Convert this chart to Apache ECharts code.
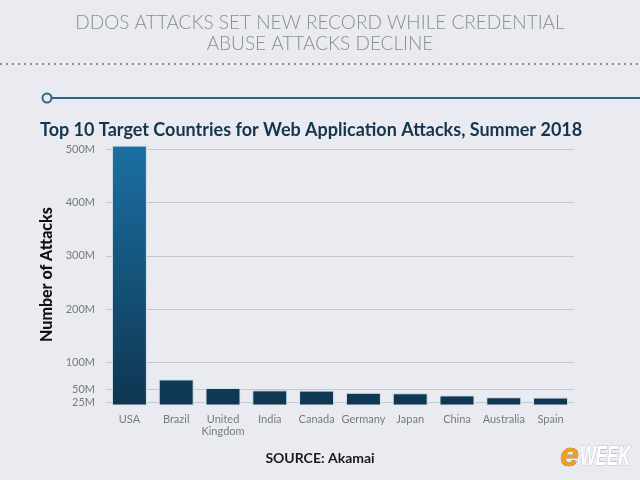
<!DOCTYPE html>
<html>
<head>
<meta charset="utf-8">
<script src="https://cdn.jsdelivr.net/npm/echarts@6/dist/echarts.min.js"></script>
<style>
  html, body { margin: 0; padding: 0; background: #e9ebf1; }
  #chart { width: 640px; height: 480px; }
</style>
</head>
<body>
<div id="chart"></div>
<script>
// Top 10 target countries, web application attacks (millions)
const countries = ['USA', 'Brazil', 'United\nKingdom', 'India', 'Canada', 'Germany', 'Japan', 'China', 'Australia', 'Spain'];
const attacks = [507, 68, 52, 47.5, 47, 43, 42, 38, 34.5, 34];
const yTicks = [25, 50, 100, 200, 300, 400, 500];

const chart = echarts.init(document.getElementById('chart'));

const option = {
    backgroundColor: '#e9ebf1',
    animation: false,
    title: {
        text: 'Top 10 Target Countries for Web Application Attacks, Summer 2018',
        left: 35,
        top: 116,
        textStyle: {
            color: '#15354d',
            fontFamily: 'Lato',
            fontWeight: 'bold',
            fontSize: 18,
        },
    },
    grid: {
        left: 106,
        right: 66,
        top: 144,
        bottom: 75,
    },
    xAxis: {
        type: 'category',
        data: countries,
        axisLine: { show: false },
        axisTick: { show: false },
        axisLabel: {
            color: '#777b80',
            fontFamily: 'Lato',
            fontSize: 11,
            margin: 8,
            lineHeight: 12,
            interval: 0,
        },
    },
    yAxis: {
        type: 'value',
        min: 20,
        max: 510,
        name: 'Number of Attacks',
        nameLocation: 'middle',
        nameGap: 45,
        nameTextStyle: {
            color: '#111111',
            fontFamily: 'Lato',
            fontWeight: 900,
            fontSize: 16,
        },
        axisLine: { show: false },
        axisTick: { show: false, customValues: yTicks },
        axisLabel: {
            customValues: yTicks,
            color: '#777b80',
            fontFamily: 'Lato',
            fontSize: 11,
            margin: 11,
            formatter: v => v + 'M',
        },
        splitLine: {
            lineStyle: { color: '#c6c8cc', width: 1 },
        },
    },
    series: [
        {
            type: 'bar',
            data: attacks,
            barWidth: 35,
            itemStyle: {
                borderColor: '#d6e4ee',
                borderWidth: 1,
                color: {
                    type: 'linear',
                    x: 0, y: 144, x2: 0, y2: 405,
                    global: true,
                    colorStops: [
                        { offset: 0, color: '#1b70a3' },
                        { offset: 1, color: '#0e3651' },
                    ],
                },
            },
        },
    ],
    graphic: [
        {
            type: 'text',
            x: 320,
            y: 12,
            style: {
                text: 'DDOS ATTACKS SET NEW RECORD WHILE CREDENTIAL\nABUSE ATTACKS DECLINE',
                fill: '#8a8d93',
                font: '300 19px Lato',
                lineHeight: 21,
                align: 'center',
            },
        },
        {
            type: 'line',
            shape: { x1: 0, y1: 64, x2: 640, y2: 64 },
            style: { stroke: '#8a8f98', lineWidth: 2, lineDash: [2, 4] },
        },
        {
            type: 'line',
            shape: { x1: 52, y1: 98, x2: 640, y2: 98 },
            style: { stroke: '#2d6688', lineWidth: 2 },
        },
        {
            type: 'circle',
            shape: { cx: 47, cy: 98, r: 4.5 },
            style: { stroke: '#2d6688', lineWidth: 2, fill: '#e9ebf1' },
        },
        {
            type: 'text',
            left: 'center',
            top: 451,
            style: {
                text: 'SOURCE: Akamai',
                fill: '#1a1a1a',
                font: 'bold 14px Lato',
            },
        },
        {
            type: 'text',
            x: 560,
            y: 440,
            style: {
                text: 'e',
                fill: '#f0a11c',
                font: 'italic bold 34px "Liberation Sans"',
                stroke: '#7a4a00',
                lineWidth: 0.5,
                shadowColor: 'rgba(0,0,0,0.5)',
                shadowBlur: 3,
                shadowOffsetX: 1,
                shadowOffsetY: 1,
            },
        },
        {
            type: 'text',
            x: 580,
            y: 444,
            scaleX: 0.62,
            style: {
                text: 'WEEK',
                fill: '#ffffff',
                font: 'italic bold 27px "Liberation Sans"',
                stroke: '#9a9ea6',
                lineWidth: 0.6,
                shadowColor: 'rgba(0,0,0,0.7)',
                shadowBlur: 3,
                shadowOffsetX: 1,
                shadowOffsetY: 1,
            },
        },
    ],
};

chart.setOption(option);
</script>
</body>
</html>
